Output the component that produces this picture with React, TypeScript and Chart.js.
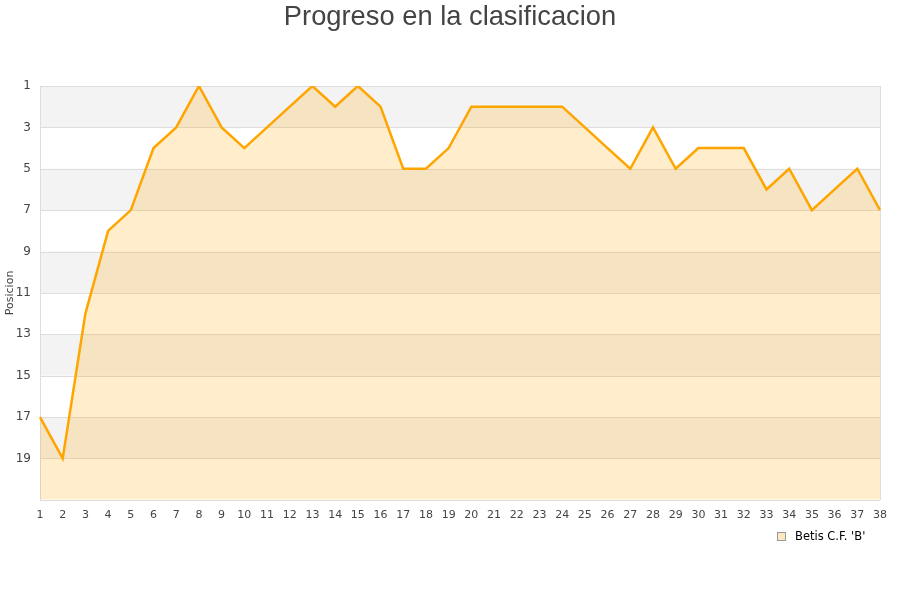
import React, { useEffect, useRef } from "react";
import { Chart, registerables } from "chart.js";

Chart.register(...registerables);

const jornadas: string[] = Array.from({ length: 38 }, (_, i) => String(i + 1));
const posiciones: number[] = [
  17, 19, 12, 8, 7, 4, 3, 1, 3, 4, 3, 2, 1, 2, 1, 2, 5, 5, 4, 2,
  2, 2, 2, 2, 3, 4, 5, 3, 5, 4, 4, 4, 6, 5, 7, 6, 5, 7,
];
const yTicks: number[] = [1, 3, 5, 7, 9, 11, 13, 15, 17, 19];
const bandStarts: number[] = [1, 5, 9, 13, 17];
const teamName = "Betis C.F. 'B'";
const chartTitle = "Progreso en la clasificacion";
const yTitle = "Posicion";

const decorPlugin = {
  id: "decor",
  beforeDatasetsDraw(chart: any) {
    const { ctx, chartArea, scales } = chart;
    const y = scales.y;
    ctx.save();
    ctx.fillStyle = "#f3f3f3";
    for (const s of bandStarts) {
      const y1 = y.getPixelForValue(s);
      const y2 = y.getPixelForValue(s + 2);
      ctx.fillRect(chartArea.left, y1, chartArea.right - chartArea.left, y2 - y1);
    }
    ctx.strokeStyle = "#dddddd";
    ctx.lineWidth = 1;
    for (const t of yTicks) {
      const py = Math.round(y.getPixelForValue(t)) + 0.5;
      ctx.beginPath();
      ctx.moveTo(chartArea.left, py);
      ctx.lineTo(chartArea.right, py);
      ctx.stroke();
    }
    ctx.beginPath();
    ctx.moveTo(Math.round(chartArea.right) + 0.5, chartArea.top);
    ctx.lineTo(Math.round(chartArea.right) + 0.5, chartArea.bottom);
    ctx.moveTo(Math.round(chartArea.left) + 0.5, chartArea.top);
    ctx.lineTo(Math.round(chartArea.left) + 0.5, chartArea.bottom);
    ctx.moveTo(chartArea.left, Math.round(chartArea.bottom) + 0.5);
    ctx.lineTo(chartArea.right, Math.round(chartArea.bottom) + 0.5);
    ctx.stroke();
    ctx.restore();
  },
  afterDraw(chart: any) {
    const { ctx, width } = chart;
    ctx.save();
    ctx.fillStyle = "#444444";
    ctx.font = "27.3px 'Liberation Sans', Arial, sans-serif";
    ctx.textAlign = "center";
    ctx.textBaseline = "middle";
    ctx.fillText(chartTitle, width / 2, 17);

    // legend
    ctx.fillStyle = "#fde8c4";
    ctx.fillRect(777.5, 532.5, 8, 8);
    ctx.strokeStyle = "#999999";
    ctx.lineWidth = 1;
    ctx.strokeRect(777.5, 532.5, 8, 8);
    ctx.fillStyle = "#000000";
    ctx.font = "11.5px 'DejaVu Sans', sans-serif";
    ctx.textAlign = "left";
    ctx.textBaseline = "middle";
    ctx.fillText(teamName, 795, 537);
    ctx.restore();
  },
};

export default function App() {
  const ref = useRef<HTMLCanvasElement | null>(null);
  useEffect(() => {
    if (!ref.current) return;
    const chart = new Chart(ref.current, {
      type: "line",
      data: {
        labels: jornadas,
        datasets: [
          {
            label: teamName,
            data: posiciones,
            borderColor: "#ffa500",
            backgroundColor: "rgba(255,165,0,0.2)",
            borderWidth: 2.5,
            pointRadius: 0,
            tension: 0,
            fill: "start",
          },
        ],
      },
      options: {
        animation: false,
        responsive: false,
        maintainAspectRatio: false,
        layout: { padding: { left: 0, right: 20, top: 86, bottom: 69 } },
        plugins: {
          title: { display: false },
          legend: { display: false },
          tooltip: { enabled: false },
        },
        scales: {
          x: {
            offset: false,
            grid: { display: false, drawTicks: false },
            border: { display: false },
            ticks: {
              color: "#444444",
              font: { family: "'DejaVu Sans', sans-serif", size: 11 },
              maxRotation: 0,
              autoSkip: false,
              padding: 9,
            },
          },
          y: {
            reverse: true,
            min: 1,
            max: 21,
            afterBuildTicks: (scale: any) => {
              scale.ticks = yTicks.map((v) => ({ value: v }));
            },
            afterFit: (scale: any) => {
              scale.width = 40;
            },
            grid: { display: false, drawTicks: false },
            border: { display: false },
            ticks: {
              color: "#444444",
              font: { family: "'DejaVu Sans', sans-serif", size: 12 },
              padding: 9,
            },
            title: {
              display: true,
              text: yTitle,
              color: "#444444",
              font: { family: "'DejaVu Sans', sans-serif", size: 11 },
              padding: { top: 4, bottom: 0 },
            },
          },
        },
      },
      plugins: [decorPlugin],
    });
    return () => chart.destroy();
  }, []);
  return (
    <div style={{ position: "fixed", left: 0, top: 0, width: 900, height: 600, background: "#fff" }}>
      <canvas ref={ref} width={900} height={600} style={{ width: 900, height: 600 }} />
    </div>
  );
}
